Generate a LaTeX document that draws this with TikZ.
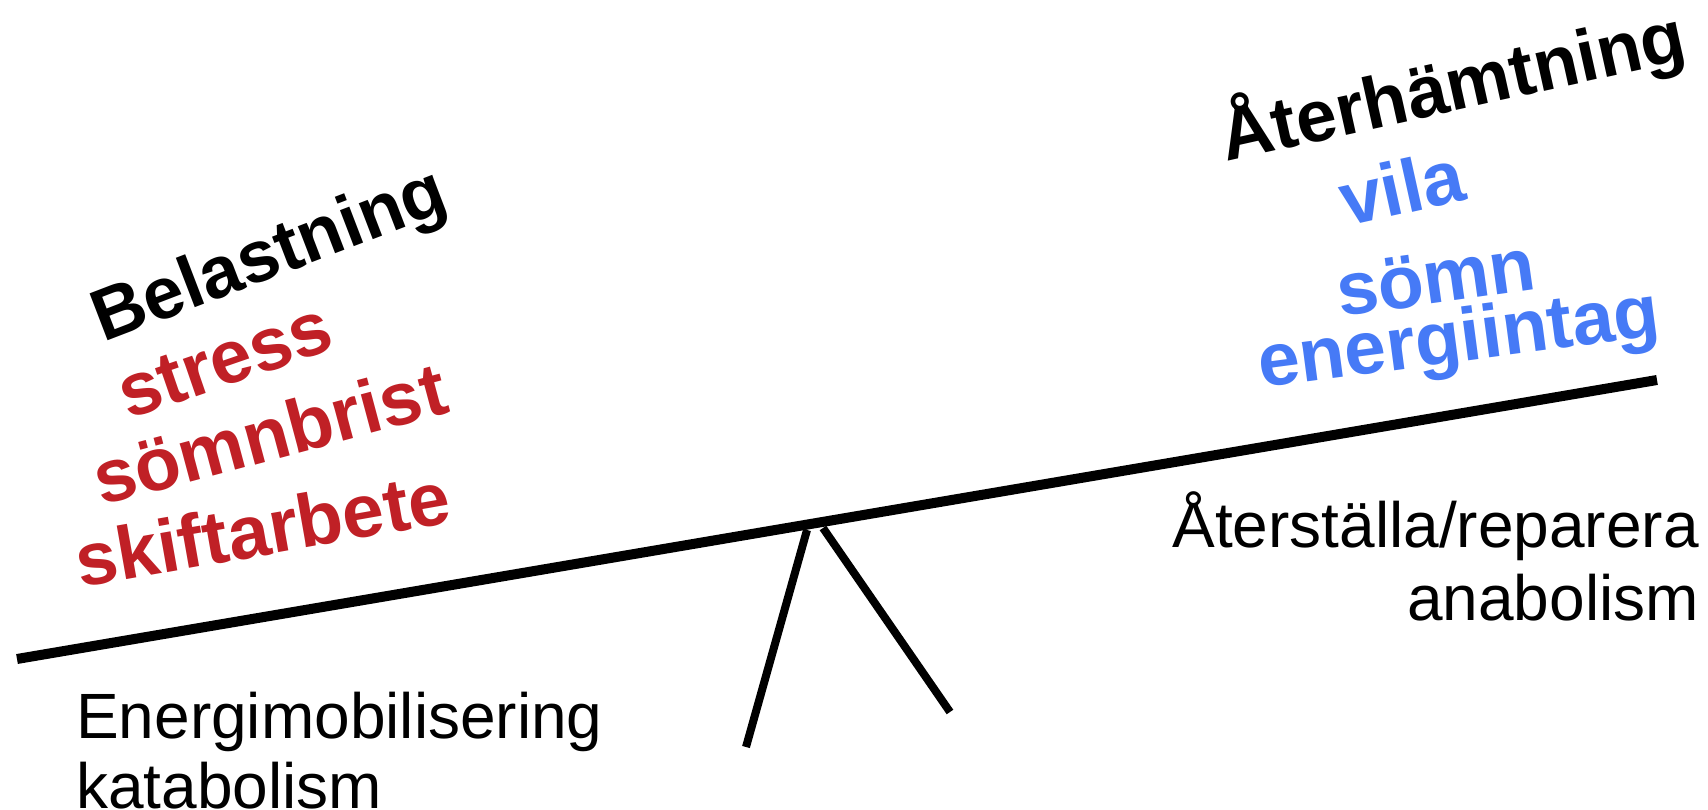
\documentclass[tikz,border=0pt]{standalone}
\usepackage{fontspec}
\setmainfont{Liberation Sans}
\definecolor{loadred}{RGB}{192,32,38}
\definecolor{restblue}{RGB}{70,122,246}
\begin{document}
\begin{tikzpicture}[x=1pt,y=1pt,
  big/.style={font=\fontsize{73}{73}\selectfont\bfseries, anchor=base west, inner sep=0pt},
  item/.style={font=\fontsize{75}{75}\selectfont\bfseries, anchor=base west, inner sep=0pt},
  plain/.style={font=\fontsize{64}{64}\selectfont, inner sep=0pt},
  beam/.style={line width=10pt},
  leg/.style={line width=8pt}]
\useasboundingbox (0,0) rectangle (1708,809);
% seesaw
\coordinate (bl) at (17,150);
\coordinate (br) at (1657,429);
\coordinate (l1) at (807,279);
\coordinate (l2) at (746,62);
\coordinate (r1) at (823,281);
\coordinate (r2) at (950,97);
\draw[beam] (bl) -- (br);
\draw[leg] (l1) -- (l2);
\draw[leg] (r1) -- (r2);
% left side
\node[big, rotate=21] (bel) at (103,466) {Belastning};
\node[item, rotate=19, text=loadred] (str) at (128,389) {stress};
\node[item, rotate=15, text=loadred] (som) at (101,303) {sömnbrist};
\node[item, rotate=10, text=loadred] (skf) at (80,221) {skiftarbete};
% right side
\node[big, rotate=12.5] (ater) at (1226,647) {Återhämtning};
\node[item, rotate=12.5, text=restblue] (vila) at (1346,582) {vila};
\node[item, rotate=8, text=restblue] (somn) at (1340,492) {sömn};
\node[item, rotate=7.5, text=restblue] (ener) at (1261,421) {energiintag};
% bottom texts
\node[plain, anchor=base west] (em) at (76,71) {Energimobilisering};
\node[plain, anchor=base west] (kat) at (76,1) {katabolism};
\node[plain, anchor=base east] (ar) at (1699,261) {Återställa/reparera};
\node[plain, anchor=base east] (ana) at (1699,188) {anabolism};
\end{tikzpicture}
\end{document}
